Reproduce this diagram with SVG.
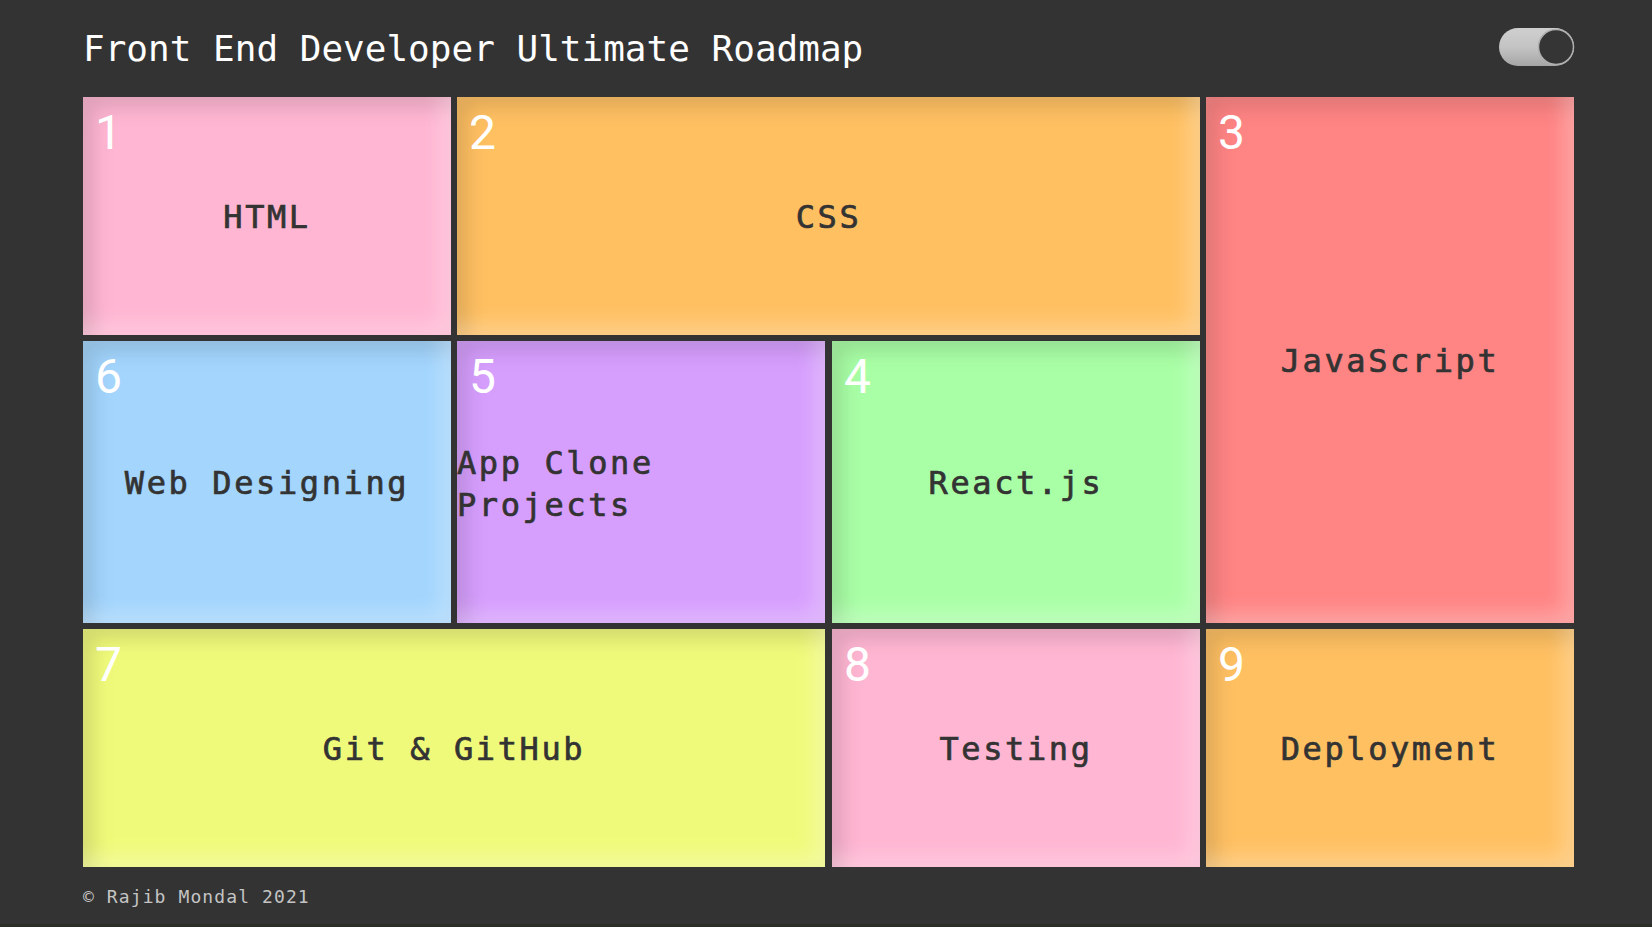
<svg xmlns="http://www.w3.org/2000/svg" width="1652" height="927" viewBox="0 0 1652 927">
  <style>
    .title { font-family: "DejaVu Sans Mono", "Liberation Mono", monospace; font-size: 36px; fill: #ffffff; }
    .num { font-family: Roboto, "Noto Sans", "Liberation Sans", sans-serif; font-size: 48px; fill: #ffffff; }
    .lbl { font-family: "DejaVu Sans Mono", "Liberation Mono", monospace; font-size: 32px; letter-spacing: 2.6px; fill: #333333; stroke: #333333; stroke-width: 0.7px; text-anchor: middle; }
    .lbl-left { text-anchor: start; }
    .foot { font-family: "DejaVu Sans Mono", "Liberation Mono", monospace; font-size: 18px; letter-spacing: 1.1px; fill: #c4c4c4; }
    .box { filter: url(#inset); }
  </style>
  <defs>
    <filter id="inset" x="-20%" y="-20%" width="140%" height="140%" color-interpolation-filters="sRGB">
      <feComponentTransfer in="SourceAlpha" result="inv">
        <feFuncA type="table" tableValues="1 0"/>
      </feComponentTransfer>
      <feOffset in="inv" dx="10" dy="10" result="o1"/>
      <feGaussianBlur in="o1" stdDeviation="10" result="b1"/>
      <feFlood flood-color="#000000" flood-opacity="0.13"/>
      <feComposite in2="b1" operator="in" result="s1"/>
      <feComposite in="s1" in2="SourceAlpha" operator="in" result="dark"/>
      <feOffset in="inv" dx="-10" dy="-10" result="o2"/>
      <feGaussianBlur in="o2" stdDeviation="10" result="b2"/>
      <feFlood flood-color="#ffffff" flood-opacity="0.28"/>
      <feComposite in2="b2" operator="in" result="s2"/>
      <feComposite in="s2" in2="SourceAlpha" operator="in" result="light"/>
      <feMerge>
        <feMergeNode in="SourceGraphic"/>
        <feMergeNode in="dark"/>
        <feMergeNode in="light"/>
      </feMerge>
    </filter>
    <linearGradient id="track" x1="0" y1="0" x2="0" y2="1">
      <stop offset="0" stop-color="#cfcfcf"/>
      <stop offset="0.5" stop-color="#c4c4c4"/>
      <stop offset="1" stop-color="#a6a6a6"/>
    </linearGradient>
  </defs>

  <rect x="0" y="0" width="1652" height="927" fill="#333333"/>

  <text class="title" x="83" y="61">Front End Developer Ultimate Roadmap</text>

  <g id="toggle">
    <rect x="1499" y="28" width="75" height="38" rx="19" fill="url(#track)"/>
    <circle cx="1556" cy="47" r="17.5" fill="#353535" stroke="#b0b0b0" stroke-width="1.5"/>
  </g>

  <g id="node-1">
    <rect class="box" x="83" y="97" width="368" height="238" fill="#ffb6d2"/>
    <text class="num" x="95" y="149">1</text>
    <text class="lbl" x="267" y="228">HTML</text>
  </g>

  <g id="node-2">
    <rect class="box" x="457" y="97" width="743" height="238" fill="#ffc062"/>
    <text class="num" x="469" y="149">2</text>
    <text class="lbl" x="828.5" y="228">CSS</text>
  </g>

  <g id="node-3">
    <rect class="box" x="1206" y="97" width="368" height="526" fill="#ff8484"/>
    <text class="num" x="1218" y="149">3</text>
    <text class="lbl" x="1390" y="372">JavaScript</text>
  </g>

  <g id="node-6">
    <rect class="box" x="83" y="341" width="368" height="282" fill="#a3d5fd"/>
    <text class="num" x="95" y="393">6</text>
    <text class="lbl" x="267" y="494">Web Designing</text>
  </g>

  <g id="node-5">
    <rect class="box" x="457" y="341" width="368" height="282" fill="#d69efd"/>
    <text class="num" x="469" y="393">5</text>
    <text class="lbl lbl-left" x="457" y="473.5"><tspan x="457" y="473.5">App Clone</tspan><tspan x="457" y="515.5">Projects</tspan></text>
  </g>

  <g id="node-4">
    <rect class="box" x="832" y="341" width="368" height="282" fill="#a9ffa6"/>
    <text class="num" x="844" y="393">4</text>
    <text class="lbl" x="1016" y="494">React.js</text>
  </g>

  <g id="node-7">
    <rect class="box" x="83" y="629" width="742" height="238" fill="#f0fa7a"/>
    <text class="num" x="95" y="681">7</text>
    <text class="lbl" x="454" y="760">Git &amp; GitHub</text>
  </g>

  <g id="node-8">
    <rect class="box" x="832" y="629" width="368" height="238" fill="#ffb6d2"/>
    <text class="num" x="844" y="681">8</text>
    <text class="lbl" x="1016" y="760">Testing</text>
  </g>

  <g id="node-9">
    <rect class="box" x="1206" y="629" width="368" height="238" fill="#ffc062"/>
    <text class="num" x="1218" y="681">9</text>
    <text class="lbl" x="1390" y="760">Deployment</text>
  </g>

  <g id="connectors"></g>

  <text class="foot" x="83" y="903">© Rajib Mondal 2021</text>

  <rect x="0" y="924" width="1652" height="3" fill="#2b2e27"/>
</svg>
